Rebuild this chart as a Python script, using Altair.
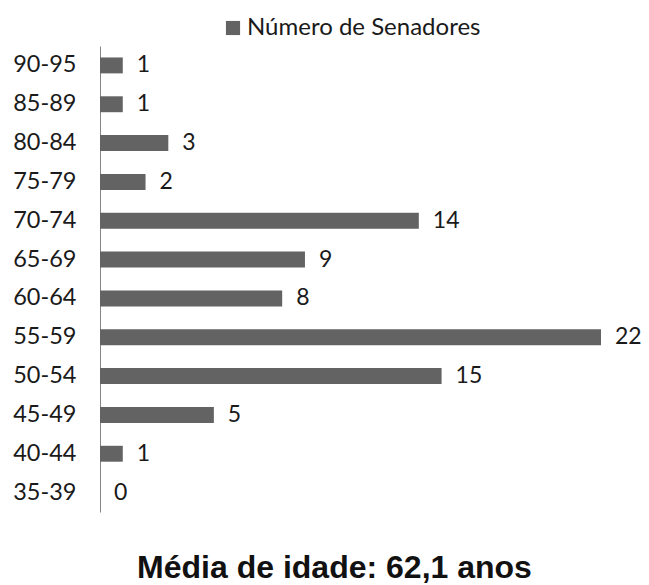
import altair as alt
import pandas as pd

categories = ["90-95", "85-89", "80-84", "75-79", "70-74", "65-69",
              "60-64", "55-59", "50-54", "45-49", "40-44", "35-39"]
values = [1, 1, 3, 2, 14, 9, 8, 22, 15, 5, 1, 0]
series_name = "Número de Senadores"
chart_title = "Média de idade: 62,1 anos"

df = pd.DataFrame({"faixa": categories, "n": values, "serie": [series_name] * len(values)})

y_enc = alt.Y("faixa:N", sort=categories,
              scale=alt.Scale(paddingInner=0.59, paddingOuter=0.295),
              axis=alt.Axis(title=None, ticks=False, grid=False, domain=True,
                            domainColor="#868686", domainWidth=1,
                            labelFont="Lato", labelFontSize=23.5, labelColor="#1a1a1a",
                            labelPadding=24))
x_enc = alt.X("n:Q", scale=alt.Scale(domain=[0, 22], nice=False), axis=None)

bars = alt.Chart(df).mark_bar(strokeWidth=0).encode(
    x=x_enc, y=y_enc,
    color=alt.Color("serie:N",
                    scale=alt.Scale(domain=[series_name], range=["#636363"]),
                    legend=alt.Legend(title=None, orient="none", legendX=121, legendY=-30,
                                      symbolType="square", symbolSize=200,
                                      symbolStrokeWidth=0, labelFont="Lato",
                                      labelFontSize=24, labelColor="#1a1a1a",
                                      labelOffset=2, labelLimit=400)),
)

labels = alt.Chart(df).mark_text(align="left", baseline="middle", dx=14,
                                 font="Lato", fontSize=23, color="#1a1a1a").encode(
    x=x_enc, y=alt.Y("faixa:N", sort=categories), text="n:Q")

chart = (bars + labels).properties(
    width=501, height=466,
    padding={"left": 92, "top": 38, "right": 40, "bottom": 80},
    autosize=alt.AutoSizeParams(type="none"),
    title=alt.TitleParams(chart_title, orient="bottom", anchor="middle", frame="group",
                          font="Liberation Sans", fontSize=32, fontWeight="bold",
                          color="#111111", dx=-16, offset=41),
).configure_view(stroke=None)

chart.save("out.html", embed_options={"renderer": "svg", "actions": False})
